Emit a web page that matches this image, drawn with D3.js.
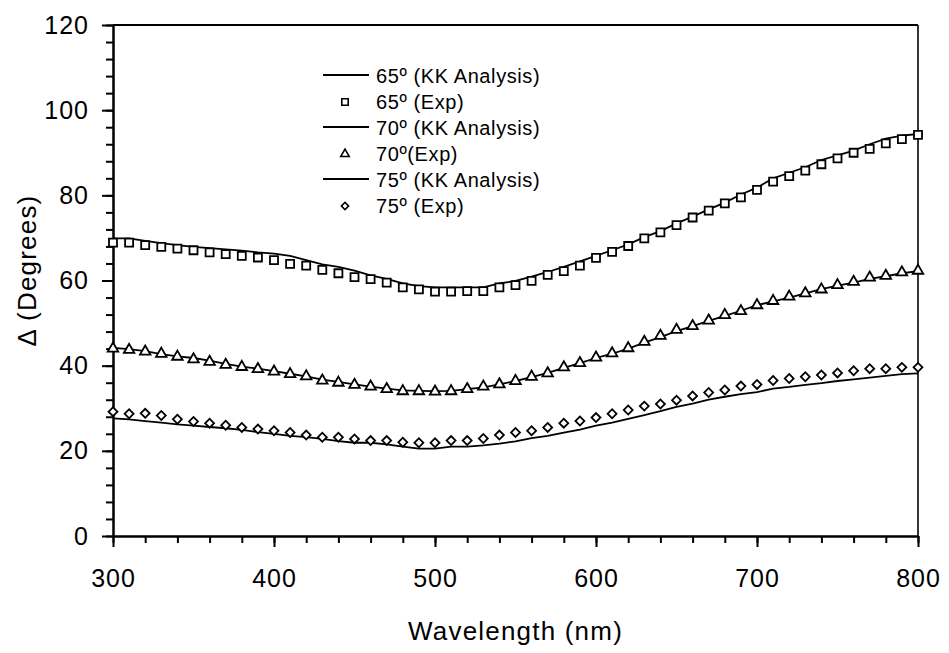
<!DOCTYPE html>
<html>
<head>
<meta charset="utf-8">
<script src="https://cdn.jsdelivr.net/npm/d3@7"></script>
<style>
  body { margin: 0; background: #fff; }
  text { font-family: "Liberation Sans", Arial, sans-serif; fill: #000; }
</style>
</head>
<body>
<svg id="chart" width="949" height="653"></svg>
<script>
  // --------------------------------------------------
  // 1. Data
  // --------------------------------------------------
  const wavelengths = d3.range(300, 801, 10);

  const kk65 = [69.9, 69.9, 69.3, 68.8, 68.3, 67.9, 67.6, 67.3, 67.0, 66.6,
    66.3, 65.8, 64.8, 63.8, 63.2, 62.3, 61.2, 60.4, 59.3, 58.7,
    58.4, 58.4, 58.4, 58.4, 59.3, 59.9, 60.9, 62.0, 63.2, 64.5,
    65.8, 67.1, 68.5, 70.2, 71.6, 73.4, 75.0, 76.7, 78.3, 80.2,
    81.8, 84.0, 85.3, 86.6, 88.3, 89.4, 90.5, 92.0, 93.3, 94.0, 94.4];
  const exp65 = [68.9, 68.9, 68.3, 67.9, 67.5, 67.1, 66.6, 66.2, 65.8, 65.4,
    64.8, 63.9, 63.5, 62.5, 61.7, 60.8, 60.3, 59.5, 58.4, 57.9,
    57.4, 57.4, 57.5, 57.5, 58.4, 58.9, 59.9, 61.3, 62.2, 63.5,
    65.3, 66.7, 68.1, 69.9, 71.3, 73.0, 74.8, 76.4, 78.1, 79.5,
    81.3, 83.2, 84.5, 85.8, 87.3, 88.7, 90.0, 90.9, 92.2, 93.2, 94.2];

  const kk70 = [44.2, 43.9, 43.4, 42.7, 42.2, 41.8, 41.2, 40.4, 39.8, 39.3,
    38.7, 38.1, 37.5, 36.7, 36.2, 35.6, 35.1, 34.6, 34.2, 34.1,
    34.0, 34.1, 34.5, 34.9, 35.6, 36.4, 37.3, 38.3, 39.5, 40.6,
    41.8, 42.8, 44.0, 45.4, 46.7, 48.1, 49.3, 50.5, 51.7, 52.9,
    54.2, 55.1, 56.0, 57.0, 58.0, 58.8, 59.5, 60.4, 61.0, 61.7, 62.2];
  const exp70 = [44.0, 43.7, 43.3, 42.8, 42.1, 41.5, 40.9, 40.2, 39.7, 39.2,
    38.6, 38.0, 37.5, 36.5, 36.0, 35.5, 35.1, 34.5, 34.0, 34.0,
    33.9, 34.0, 34.5, 35.1, 35.6, 36.4, 37.4, 38.2, 39.6, 40.6,
    41.9, 42.9, 44.1, 45.6, 47.0, 48.4, 49.3, 50.6, 51.9, 52.8,
    54.2, 55.2, 56.2, 57.0, 57.9, 58.9, 59.7, 60.7, 61.1, 61.9, 62.3];

  const kk75 = [27.6, 27.4, 27.0, 26.6, 26.2, 25.9, 25.6, 25.3, 24.9, 24.4,
    24.0, 23.5, 23.2, 22.8, 22.3, 21.9, 21.9, 21.5, 21.0, 20.5,
    20.5, 21.0, 21.0, 21.3, 21.7, 22.2, 23.0, 23.5, 24.3, 25.0,
    25.9, 26.6, 27.5, 28.4, 29.3, 30.3, 31.1, 32.0, 32.7, 33.3,
    33.8, 34.6, 35.0, 35.5, 35.9, 36.4, 36.8, 37.2, 37.6, 38.0, 38.2];
  const exp75 = [29.2, 28.7, 28.8, 28.3, 27.4, 26.9, 26.5, 26.0, 25.5, 25.1,
    24.7, 24.3, 23.7, 23.2, 23.2, 22.8, 22.4, 22.4, 22.0, 21.9,
    21.9, 22.4, 22.4, 22.9, 23.7, 24.3, 24.7, 25.5, 26.5, 27.0,
    27.8, 28.7, 29.6, 30.5, 31.0, 31.9, 32.9, 33.7, 34.3, 35.2,
    35.6, 36.5, 37.0, 37.4, 37.8, 38.3, 38.8, 39.3, 39.3, 39.6, 39.6];

  const legendLabels = ["65º (KK Analysis)", "65º (Exp)", "70º (KK Analysis)",
    "70º(Exp)", "75º (KK Analysis)", "75º (Exp)"];

  const xTicks = [300, 400, 500, 600, 700, 800];
  const yTicks = [0, 20, 40, 60, 80, 100, 120];

  // --------------------------------------------------
  // 2. Scales
  // --------------------------------------------------
  const svg = d3.select("#chart");
  const plotLeft = 113, plotRight = 918, plotTop = 25, plotBottom = 536;

  const x = d3.scaleLinear().domain([300, 800]).range([plotLeft, plotRight]);
  const y = d3.scaleLinear().domain([0, 120]).range([plotBottom, plotTop]);

  // marker shapes
  const square = d3.symbol(d3.symbolSquare, 64);
  const triangle = d3.symbol(d3.symbolTriangle, 48);
  const diamond = d3.symbol(d3.symbolSquare, 40);

  const series = [
    { kk: kk65, exp: exp65, shape: square, rot: 0 },
    { kk: kk70, exp: exp70, shape: triangle, rot: 0 },
    { kk: kk75, exp: exp75, shape: diamond, rot: 45 }
  ];

  // --------------------------------------------------
  // 3. Axes (major + minor ticks)
  // --------------------------------------------------
  function styleAxis(g) {
    g.selectAll("path.domain").attr("stroke", "#000").attr("stroke-width", 2);
    g.selectAll(".tick line").attr("stroke", "#000").attr("stroke-width", 2);
    g.selectAll(".tick text")
      .style("font-family", "'Liberation Sans', Arial, sans-serif")
      .style("font-size", "25px")
      .style("letter-spacing", "1px")
      .attr("fill", "#000");
  }

  // minor ticks first
  svg.append("g")
    .attr("transform", `translate(0,${plotBottom})`)
    .call(d3.axisBottom(x).tickValues(d3.range(300, 801, 20)).tickSize(7).tickSizeOuter(0).tickFormat(""))
    .call(styleAxis);
  svg.append("g")
    .attr("transform", `translate(${plotLeft},0)`)
    .call(d3.axisLeft(y).tickValues(d3.range(0, 121, 4)).tickSize(7).tickSizeOuter(0).tickFormat(""))
    .call(styleAxis);

  // major ticks with labels
  svg.append("g")
    .attr("transform", `translate(0,${plotBottom})`)
    .call(d3.axisBottom(x).tickValues(xTicks).tickSize(11).tickSizeOuter(0).tickPadding(22).tickFormat(d3.format("d")))
    .call(styleAxis);
  svg.append("g")
    .attr("transform", `translate(${plotLeft},0)`)
    .call(d3.axisLeft(y).tickValues(yTicks).tickSize(11).tickSizeOuter(0).tickPadding(13).tickFormat(d3.format("d")))
    .call(styleAxis);

  // frame: top and right edges
  svg.append("line")
    .attr("x1", plotLeft).attr("x2", plotRight).attr("y1", plotTop).attr("y2", plotTop)
    .attr("stroke", "#000").attr("stroke-width", 2);
  svg.append("line")
    .attr("x1", plotRight).attr("x2", plotRight).attr("y1", plotTop).attr("y2", plotBottom)
    .attr("stroke", "#000").attr("stroke-width", 1.6);

  // axis titles
  svg.append("text")
    .attr("x", (plotLeft + plotRight) / 2)
    .attr("y", 640)
    .attr("text-anchor", "middle")
    .style("font-size", "26px")
    .style("letter-spacing", "1.2px")
    .text("Wavelength (nm)");

  svg.append("text")
    .attr("transform", `translate(36,${(plotTop + plotBottom) / 2 - 10}) rotate(-90)`)
    .attr("text-anchor", "middle")
    .style("font-size", "26px")
    .style("letter-spacing", "1.2px")
    .text("Δ (Degrees)");

  // --------------------------------------------------
  // 4. Lines and markers
  // --------------------------------------------------
  const line = d3.line()
    .x((d, i) => x(wavelengths[i]))
    .y((d) => y(d));

  series.forEach((s) => {
    svg.append("path")
      .datum(s.kk)
      .attr("d", line)
      .attr("fill", "none")
      .attr("stroke", "#000")
      .attr("stroke-width", 1.8);

    svg.append("g")
      .selectAll("path")
      .data(s.exp)
      .enter()
      .append("path")
      .attr("d", s.shape)
      .attr("transform", (d, i) => `translate(${x(wavelengths[i])},${y(d)}) rotate(${s.rot})`)
      .attr("fill", "#fff")
      .attr("stroke", "#000")
      .attr("stroke-width", 1.8);
  });

  // --------------------------------------------------
  // 5. Legend
  // --------------------------------------------------
  const legend = svg.append("g").attr("transform", "translate(323,75)");
  const rowH = 26;

  legendLabels.forEach((label, i) => {
    const ry = i * rowH;
    const s = series[Math.floor(i / 2)];
    if (i % 2 === 0) {
      legend.append("line")
        .attr("x1", 0).attr("x2", 46).attr("y1", ry).attr("y2", ry)
        .attr("stroke", "#000").attr("stroke-width", 1.8);
    } else {
      legend.append("path")
        .attr("d", s.shape)
        .attr("transform", `translate(22,${ry + 1}) rotate(${s.rot}) scale(0.8)`)
        .attr("fill", "#fff")
        .attr("stroke", "#000")
        .attr("stroke-width", 2);
    }
    legend.append("text")
      .attr("x", 53)
      .attr("y", ry + 8)
      .style("font-size", "20px")
      .style("letter-spacing", "0.6px")
      .text(label);
  });
</script>
</body>
</html>
